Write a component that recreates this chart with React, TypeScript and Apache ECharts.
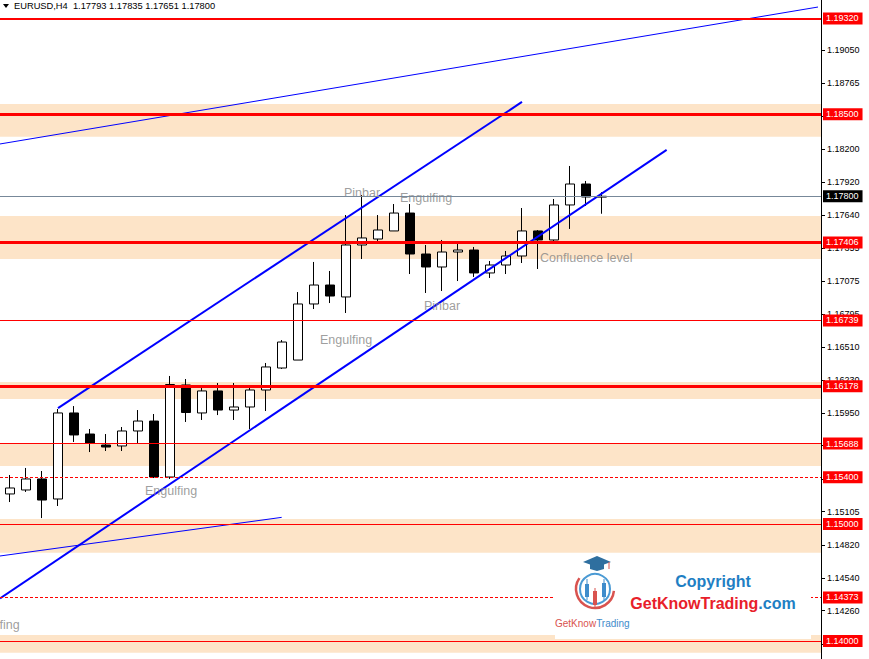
import React, { useEffect, useRef } from "react";
import * as echarts from "echarts";

// ---- data ----
const opens = [1.15257,1.15291,1.15385,1.15214,1.15949,1.15769,1.15675,1.15667,1.15795,1.15880,1.15402,1.16188,1.15949,1.16137,1.15974,1.16000,1.16145,1.16333,1.16401,1.16880,1.17042,1.16940,1.17384,1.17435,1.17504,1.17657,1.17307,1.17196,1.17324,1.17341,1.17145,1.17213,1.17290,1.17504,1.17427,1.17726,1.17905,1.17793];
const closes = [1.15308,1.15385,1.15205,1.15949,1.15761,1.15692,1.15658,1.15795,1.15880,1.15402,1.16192,1.15953,1.16137,1.15974,1.16000,1.16145,1.16342,1.16555,1.16880,1.17042,1.16948,1.17384,1.17444,1.17512,1.17657,1.17307,1.17196,1.17324,1.17341,1.17145,1.17213,1.17290,1.17504,1.17427,1.17726,1.17905,1.17794,1.17800];
const highs = [1.15419,1.15479,1.15453,1.15983,1.16008,1.15812,1.15769,1.15829,1.15974,1.15940,1.16265,1.16239,1.16162,1.16205,1.16205,1.16162,1.16376,1.16572,1.16982,1.17239,1.17162,1.17640,1.17811,1.17640,1.17734,1.17734,1.17384,1.17427,1.17418,1.17367,1.17247,1.17333,1.17700,1.17512,1.17777,1.18059,1.17931,1.17835];
const lows = [1.15188,1.15274,1.15051,1.15154,1.15701,1.15615,1.15624,1.15624,1.15692,1.15393,1.15385,1.15872,1.15889,1.15931,1.15889,1.15812,1.15966,1.16325,1.16401,1.16837,1.16888,1.16803,1.17264,1.17410,1.17504,1.17136,1.16974,1.16991,1.17076,1.17111,1.17102,1.17136,1.17230,1.17179,1.17418,1.17521,1.17717,1.17651];

const symbolName = "EURUSD,H4";
const yTickValues = [1.19050,1.18765,1.18480,1.18200,1.17920,1.17640,1.17355,1.17075,1.16795,1.16510,1.16230,1.15950,1.15670,1.15385,1.15105,1.14820,1.14540,1.14260,1.13975];
const yMin = 1.13847;
const yMax = 1.19477;

const levelPrices = [1.19320,1.18500,1.17406,1.16739,1.16178,1.15688,1.15400,1.15000,1.14373,1.14000];
const levelWidths = [2,3,3,1,3,1,1,1,1,1];
const levelDashed = [false,false,false,false,false,false,true,false,true,false];
const currentPrice = 1.17800;

const zoneLows = [1.18309,1.17264,1.16068,1.15496,1.14755,1.13900];
const zoneHighs = [1.18589,1.17632,1.16213,1.15684,1.15043,1.14052];

const trendStartX = [3.0,-0.625,-0.625,-0.625];
const trendStartY = [1.15991,1.14365,1.18247,1.14727];
const trendEndX = [32.0,41.04,50.5,16.98];
const trendEndY = [1.18606,1.18196,1.19417,1.15057];
const trendWidths = [2,2,1,1];

const annotationTexts = ["Pinbar","Engulfing","Engulfing","Pinbar","Confluence level","Engulfing","Engulfing"];
const annotationX = [20.875,24.375,19.375,25.875,33.125,8.4375,-2.65];
const annotationY = [1.17828,1.17786,1.16572,1.16863,1.17273,1.15282,1.14137];

const FONT = '"Liberation Sans", Arial, sans-serif';

export default function App() {
  const ref = useRef<HTMLDivElement>(null);
  useEffect(() => {
    if (!ref.current) return;
    const chart = echarts.init(ref.current, null, { renderer: "svg" });
    const n = opens.length;
    const candleData = opens.map((o, i) => [i, o, closes[i], lows[i], highs[i]]);
    const last = n - 1;
    const title = `${symbolName}  ${opens[last].toFixed(5)} ${highs[last].toFixed(5)} ${lows[last].toFixed(5)} ${closes[last].toFixed(5)}`;

    const tagLabel = (p: number, bg: string) => ({
      show: true, position: "end", distance: 2, formatter: p.toFixed(5),
      color: "#ffffff", backgroundColor: bg, fontSize: 9, fontFamily: FONT,
      padding: [1, 4, 1, 3], lineHeight: 10,
    });

    const levelLines: any[] = levelPrices.map((p, i) => ({
      yAxis: p,
      lineStyle: { color: "#ff0000", width: levelWidths[i], type: levelDashed[i] ? [3, 2] : "solid" },
      label: tagLabel(p, "#ff0000"),
    }));
    levelLines.push({
      yAxis: currentPrice,
      lineStyle: { color: "#778899", width: 1, type: "solid" },
      label: tagLabel(currentPrice, "#000000"),
    });

    const trendSeries = trendStartX.map((sx, i) => ({
      type: "line",
      z: 4,
      silent: true,
      showSymbol: false,
      symbol: "none",
      data: [[sx, trendStartY[i]], [trendEndX[i], trendEndY[i]]],
      lineStyle: { color: "#0000ff", width: trendWidths[i] },
    }));

    const option: any = {
      animation: false,
      backgroundColor: "#ffffff",
      grid: { left: 0, right: 48, top: 0, bottom: 0, containLabel: false },
      xAxis: {
        type: "value",
        min: -0.625,
        max: -0.625 + 821 / 16,
        show: false,
        axisLine: { onZero: false },
      },
      yAxis: {
        type: "value",
        position: "right",
        min: yMin,
        max: yMax,
        axisLine: { show: true, onZero: false, lineStyle: { color: "#000000", width: 1 } },
        axisTick: { show: true, inside: false, length: 4, customValues: yTickValues, lineStyle: { color: "#000000" } },
        axisLabel: {
          customValues: yTickValues,
          formatter: (v: number) => v.toFixed(5),
          color: "#000000", fontSize: 9, fontFamily: FONT, margin: 6,
        },
        splitLine: { show: false },
      },
      series: [
        {
          type: "line",
          z: 1,
          silent: true,
          data: [],
          markArea: {
            silent: true,
            precision: 5,
            z: 1,
            itemStyle: { color: "#FDE4C8" },
            data: zoneLows.map((lo, i) => [{ yAxis: lo }, { yAxis: zoneHighs[i] }]),
          },
        },
        {
          type: "candlestick",
          z: 2,
          silent: true,
          barWidth: 9,
          encode: { x: 0, y: [1, 2, 3, 4] },
          data: candleData,
          itemStyle: {
            color: "#ffffff",
            color0: "#000000",
            borderColor: "#000000",
            borderColor0: "#000000",
            borderWidth: 1,
          },
        },
        {
          type: "line",
          z: 7,
          silent: true,
          data: [],
          markLine: {
            silent: true,
            precision: 5,
            z: 20,
            symbol: ["none", "none"],
            data: levelLines,
          },
        },
        ...trendSeries,
        {
          type: "scatter",
          z: 5,
          silent: true,
          clip: false,
          symbolSize: 0,
          data: annotationX.map((x, i) => [x, annotationY[i], annotationTexts[i]]),
          label: {
            show: true,
            position: "right",
            distance: 0,
            formatter: (p: any) => p.data[2],
            color: "#858585",
            fontSize: 12.5,
            fontFamily: FONT,
          },
        },
      ],
      graphic: [
        { type: "polygon", z: 100, shape: { points: [[3, 4], [9, 4], [6, 8]] }, style: { fill: "#000" } },
        { type: "text", z: 100, x: 14, y: 6, style: { text: title, fill: "#000", font: `9.3px ${FONT}`, verticalAlign: "middle" } },
        { type: "rect", z: 100, shape: { x: 555, y: 554, width: 256, height: 85 }, style: { fill: "#ffffff" } },
        { type: "circle", z: 101, shape: { cx: 595, cy: 589, r: 15 }, style: { fill: "none", stroke: "#4a9ad4", lineWidth: 2 } },
        { type: "arc", z: 101, shape: { cx: 595, cy: 589, r: 19, startAngle: 0.1, endAngle: 3.75, clockwise: true }, style: { fill: "none", stroke: "#d9534f", lineWidth: 2.5 } },
        { type: "polygon", z: 102, shape: { points: [[583, 562], [597, 556], [611, 562], [597, 567]] }, style: { fill: "#2f6f9f" } },
        { type: "polygon", z: 102, shape: { points: [[590, 564], [604, 564], [604, 569], [597, 571], [590, 569]] }, style: { fill: "#2f6f9f" } },
        { type: "line", z: 102, shape: { x1: 609, y1: 562, x2: 609, y2: 569 }, style: { stroke: "#d9534f", lineWidth: 1 } },
        { type: "line", z: 101, shape: { x1: 587, y1: 579, x2: 587, y2: 600 }, style: { stroke: "#3f8ccb", lineWidth: 1 } },
        { type: "rect", z: 102, shape: { x: 585, y: 584, width: 4, height: 13 }, style: { fill: "#3f8ccb" } },
        { type: "line", z: 101, shape: { x1: 595, y1: 588, x2: 595, y2: 607 }, style: { stroke: "#d9534f", lineWidth: 1 } },
        { type: "rect", z: 102, shape: { x: 593, y: 591, width: 4, height: 14 }, style: { fill: "#d9534f" } },
        { type: "line", z: 101, shape: { x1: 604, y1: 579, x2: 604, y2: 600 }, style: { stroke: "#3f8ccb", lineWidth: 1 } },
        { type: "rect", z: 102, shape: { x: 602, y: 583, width: 4, height: 14 }, style: { fill: "#3f8ccb" } },
        {
          type: "text", z: 102, x: 555, y: 623,
          style: {
            text: "{a|GetKnow}{b|Trading}",
            verticalAlign: "middle",
            font: `10px ${FONT}`,
            rich: {
              a: { fill: "#d9534f", fontSize: 10, fontFamily: FONT },
              b: { fill: "#3f8ccb", fontSize: 10, fontFamily: FONT },
            },
          },
        },
        {
          type: "text", z: 102, x: 713, y: 581,
          style: { text: "Copyright", fill: "#1f7fc4", font: `bold 16px ${FONT}`, align: "center", verticalAlign: "middle" },
        },
        {
          type: "text", z: 102, x: 713, y: 603,
          style: {
            text: "{a|GetKnowTrading}{b|.com}",
            align: "center",
            verticalAlign: "middle",
            font: `bold 16px ${FONT}`,
            rich: {
              a: { fill: "#e8202a", fontSize: 16, fontWeight: "bold", fontFamily: FONT },
              b: { fill: "#1f7fc4", fontSize: 16, fontWeight: "bold", fontFamily: FONT },
            },
          },
        },
      ],
    };
    chart.setOption(option);
    return () => chart.dispose();
  }, []);
  return (
    <div
      ref={ref}
      style={{ position: "fixed", left: 0, top: 0, width: 869, height: 659, background: "#ffffff" }}
    />
  );
}
